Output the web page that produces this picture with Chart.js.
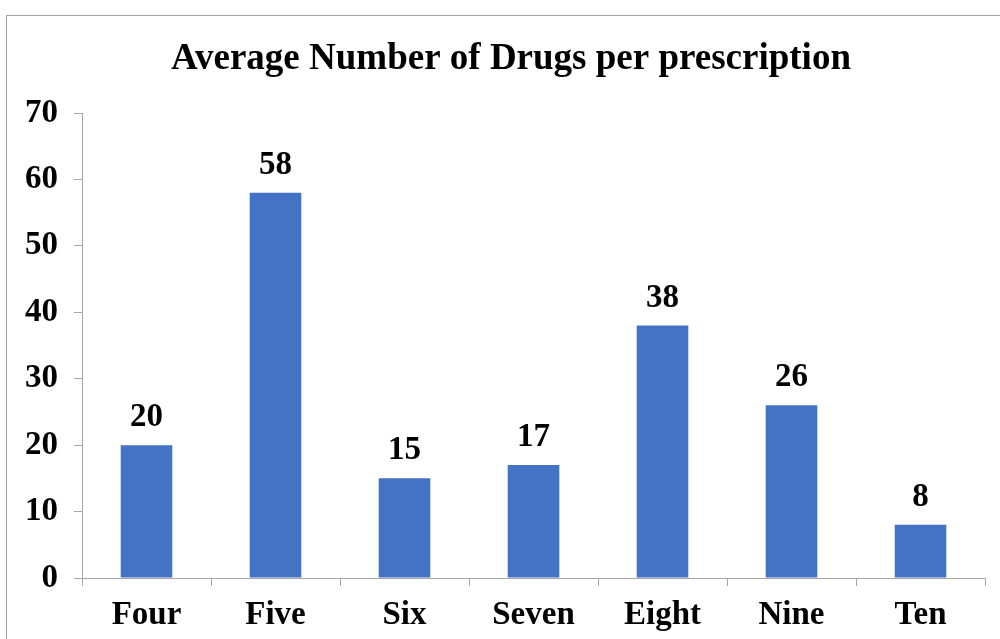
<!DOCTYPE html>
<html>
<head>
<meta charset="utf-8">
<script src="https://cdn.jsdelivr.net/npm/chart.js@4.4.1/dist/chart.umd.min.js"></script>
<style>
  html, body { margin: 0; padding: 0; background: #fff; }
  #wrap { position: relative; width: 1000px; height: 639px; overflow: hidden; }
  #frame { position: absolute; left: 6px; top: 15px; width: 1100px; height: 700px;
           border-left: 1px solid #a0a0a0; border-top: 1px solid #a0a0a0; }
  canvas { position: absolute; left: 0; top: 0; }
</style>
</head>
<body>
<div id="wrap">
  <div id="frame"></div>
  <canvas id="chart" width="1000" height="639"></canvas>
</div>
<script>
const categories = ["Four", "Five", "Six", "Seven", "Eight", "Nine", "Ten"];
const drugCounts = [20, 58, 15, 17, 38, 26, 8];
const yTicks = [0, 10, 20, 30, 40, 50, 60, 70];
const chartTitle = 'Average Number of Drugs per prescription';

const serif = "'Liberation Serif', 'Times New Roman', serif";
const axisGray = '#a6a6a6';

// title sits a little right of the canvas centre, so draw it by hand
const titleText = {
  id: 'titleText',
  afterDraw(chart) {
    const ctx = chart.ctx;
    ctx.save();
    ctx.font = `bold 37px ${serif}`;
    ctx.fillStyle = '#000';
    ctx.textAlign = 'center';
    ctx.textBaseline = 'middle';
    ctx.fillText(chartTitle, 511, 59);
    ctx.restore();
  }
};

// value written above each bar
const barLabels = {
  id: 'barLabels',
  afterDatasetsDraw(chart) {
    const ctx = chart.ctx;
    const meta = chart.getDatasetMeta(0);
    ctx.save();
    ctx.font = `bold 33px ${serif}`;
    ctx.fillStyle = '#000';
    ctx.textAlign = 'center';
    ctx.textBaseline = 'bottom';
    meta.data.forEach((bar, i) => {
      ctx.fillText(String(drugCounts[i]), bar.x, bar.y - 11);
    });
    ctx.restore();
  }
};

const ctx = document.getElementById('chart').getContext('2d');
new Chart(ctx, {
  type: 'bar',
  data: {
    labels: categories,
    datasets: [{
      data: drugCounts,
      backgroundColor: '#4472c4',
      barPercentage: 0.4,
      categoryPercentage: 1.0
    }]
  },
  options: {
    responsive: false,
    animation: false,
    layout: { padding: { left: 0, right: 15, top: 113, bottom: 0 } },
    plugins: {
      legend: { display: false },
      tooltip: { enabled: false },
      title: { display: false }
    },
    scales: {
      x: {
        afterFit(axis) { axis.height = 61; axis.paddingLeft = 0; axis.paddingRight = 0; },
        grid: { display: true, drawOnChartArea: false, drawTicks: true, tickLength: 8, color: axisGray, offset: true },
        border: { display: true, color: axisGray, width: 1 },
        ticks: { color: '#000', font: { family: serif, size: 33, weight: 'bold', lineHeight: 1 }, padding: 13 }
      },
      y: {
        min: 0,
        max: 70,
        afterBuildTicks(axis) { axis.ticks = yTicks.map(v => ({ value: v })); },
        afterFit(axis) { axis.width = 82; },
        grid: { display: true, drawOnChartArea: false, drawTicks: true, tickLength: 8, color: axisGray },
        border: { display: true, color: axisGray, width: 1 },
        ticks: { color: '#000', font: { family: serif, size: 33, weight: 'bold' }, padding: 16 }
      }
    }
  },
  plugins: [barLabels, titleText]
});
</script>
</body>
</html>
